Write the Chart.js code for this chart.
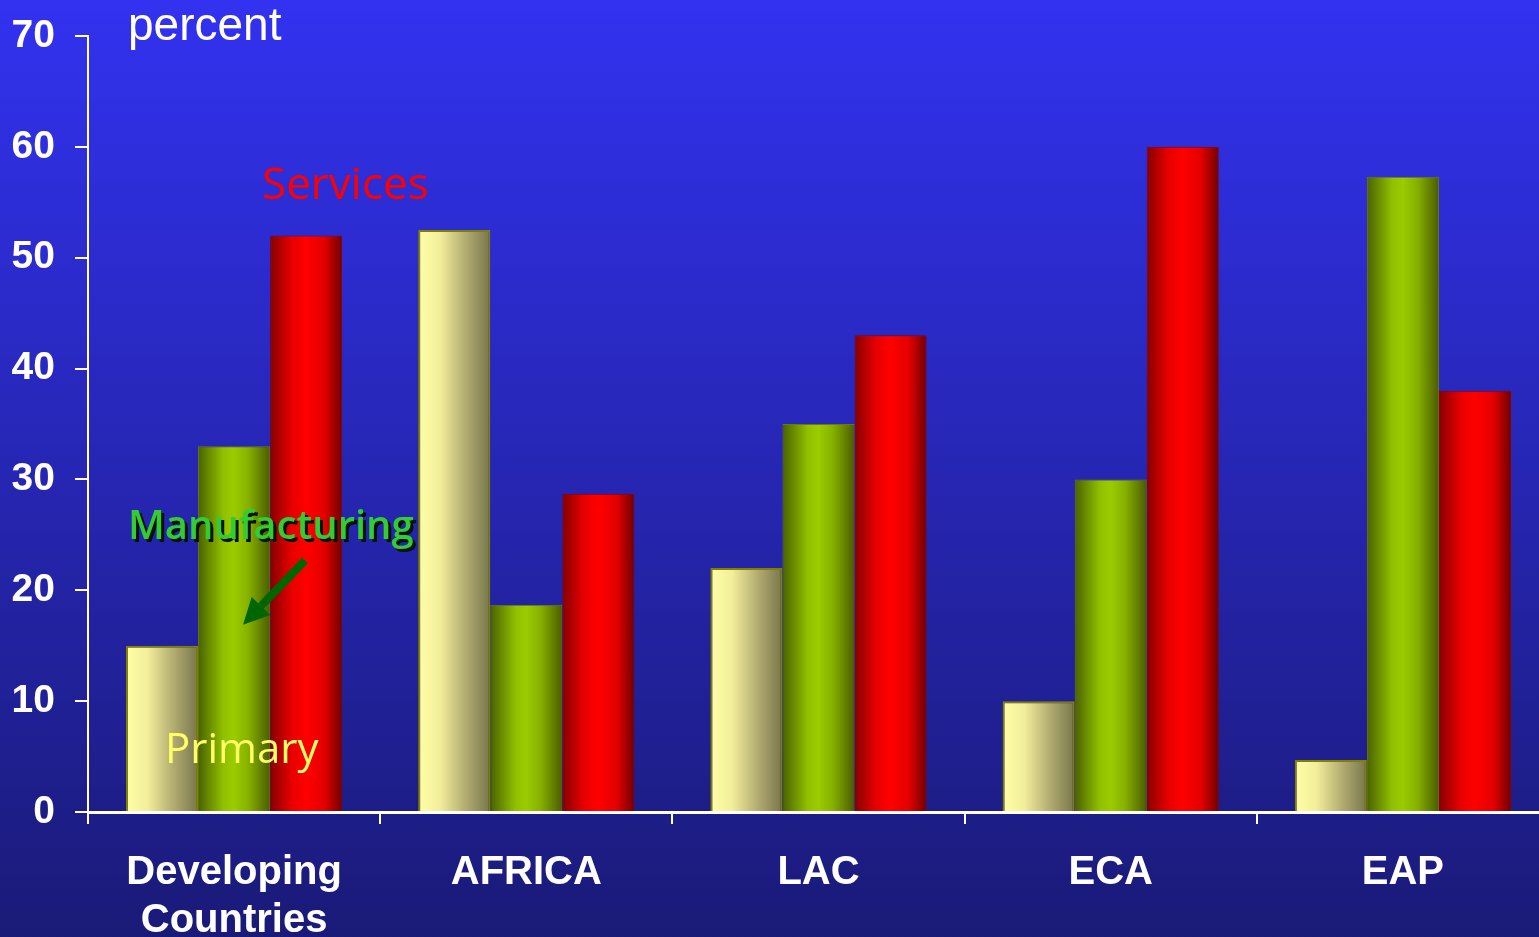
<!DOCTYPE html>
<html>
<head>
<meta charset="utf-8">
<title>Output shares by sector</title>
<script src="https://cdn.jsdelivr.net/npm/chart.js@4.4.0/dist/chart.umd.min.js"></script>
<style>
  html, body { margin: 0; padding: 0; overflow: hidden; background: #1a1a7a; }
  #wrap { position: absolute; left: 0; top: 0; width: 1549px; height: 937px; }
</style>
</head>
<body>
<div id="wrap"><canvas id="sector-chart" width="1549" height="937"></canvas></div>
<script>
  // values per region, in percent
  const regions = [['Developing', 'Countries'], 'AFRICA', 'LAC', 'ECA', 'EAP'];
  const primary = [15, 52.5, 22, 10, 4.7];
  const manufacturing = [33, 18.7, 35, 30, 57.3];
  const services = [52, 28.7, 43, 60, 38];
  const yMin = 0, yMax = 70, yStep = 10;

  const CATEGORY_PCT = 0.74;

  // horizontal shading across each bar, so they look rounded
  function barFill(stops) {
    return function (context) {
      const chart = context.chart;
      const x = chart.scales && chart.scales.x;
      if (!x || context.dataIndex === undefined || !x.width) return stops[1][1];
      const catW = x.width / regions.length;
      const groupW = catW * CATEGORY_PCT;
      const barW = groupW / 3;
      const left = x.getPixelForValue(context.dataIndex) - groupW / 2 + context.datasetIndex * barW;
      const g = chart.ctx.createLinearGradient(left, 0, left + barW, 0);
      stops.forEach(s => g.addColorStop(s[0], s[1]));
      return g;
    };
  }

  const primaryStops = [[0, '#ffffa6'], [0.3, '#f2ee9a'], [0.65, '#b4ad72'], [1, '#77764c']];
  const manufStops = [[0, '#4a6200'], [0.35, '#90c000'], [0.5, '#9acc00'], [0.7, '#86b000'], [1, '#4a5c00']];
  const servStops = [[0, '#860000'], [0.3, '#e80000'], [0.5, '#ff0000'], [0.75, '#e40000'], [1, '#700000']];

  // dark blue backdrop
  const backdrop = {
    id: 'backdrop',
    beforeDraw(chart) {
      const c = chart.ctx;
      const g = c.createLinearGradient(0, 0, 0, chart.height);
      g.addColorStop(0, '#3232f0');
      g.addColorStop(0.5, '#2626b4');
      g.addColorStop(1, '#1a1a78');
      c.save();
      c.fillStyle = g;
      c.fillRect(0, 0, chart.width, chart.height);
      c.restore();
    }
  };

  // captions and arrow, placed against the scales
  const notes = {
    id: 'notes',
    afterDatasetsDraw(chart) {
      const c = chart.ctx;
      const xs = chart.scales.x, ys = chart.scales.y;
      const L = xs.left;
      c.save();
      c.textBaseline = 'alphabetic';
      c.textAlign = 'left';

      c.font = '46px "Liberation Sans", Arial, sans-serif';
      c.fillStyle = '#ffffff';
      c.fillText('percent', L + 40, ys.getPixelForValue(69.6));

      c.font = '44px "Open Sans", sans-serif';
      c.fillStyle = '#ff0000';
      c.fillText('Services', L + 174, ys.getPixelForValue(55.3));

      c.font = '600 40px "Open Sans", sans-serif';
      c.fillStyle = '#001400';
      c.fillText('Manufacturing', L + 43, ys.getPixelForValue(24.6) + 3);
      c.fillStyle = '#33cc33';
      c.fillText('Manufacturing', L + 40, ys.getPixelForValue(24.6));

      c.font = '42px "Open Sans", sans-serif';
      c.fillStyle = '#ffff66';
      c.fillText('Primary', L + 77, ys.getPixelForValue(4.4));

      // arrow pointing at the manufacturing bar
      const x1 = L + 217, y1 = ys.getPixelForValue(22.7);
      const x2 = L + 155, y2 = ys.getPixelForValue(16.9);
      const ang = Math.atan2(y2 - y1, x2 - x1);
      const head = 26, half = 13;
      const bx = x2 - head * Math.cos(ang), by = y2 - head * Math.sin(ang);
      c.strokeStyle = '#006600';
      c.fillStyle = '#006600';
      c.lineWidth = 8;
      c.beginPath();
      c.moveTo(x1, y1);
      c.lineTo(bx, by);
      c.stroke();
      c.beginPath();
      c.moveTo(x2, y2);
      c.lineTo(bx + half * Math.sin(ang), by - half * Math.cos(ang));
      c.lineTo(bx - half * Math.sin(ang), by + half * Math.cos(ang));
      c.closePath();
      c.fill();
      c.restore();
    }
  };

  const ctx = document.getElementById('sector-chart').getContext('2d');
  const sectorChart = new Chart(ctx, {
    type: 'bar',
    data: {
      labels: regions,
      datasets: [
        { label: 'Primary', data: primary, backgroundColor: barFill(primaryStops), borderColor: '#808000', borderWidth: 2 },
        { label: 'Manufacturing', data: manufacturing, backgroundColor: barFill(manufStops), borderColor: '#6b7d00', borderWidth: 1 },
        { label: 'Services', data: services, backgroundColor: barFill(servStops), borderColor: '#8a0000', borderWidth: 1 }
      ]
    },
    options: {
      responsive: false,
      animation: false,
      layout: { padding: { top: 36, left: 0, right: 0, bottom: 0 } },
      datasets: { bar: { categoryPercentage: CATEGORY_PCT, barPercentage: 1.0 } },
      plugins: { legend: { display: false }, tooltip: { enabled: false } },
      scales: {
        x: {
          grid: { drawOnChartArea: false, drawTicks: true, tickLength: 12, color: '#ffffff', lineWidth: 2, offset: true },
          border: { display: true, color: '#ffffff', width: 3 },
          ticks: {
            color: '#ffffff',
            padding: 25,
            maxRotation: 0,
            font: { family: '"Liberation Sans", Arial, sans-serif', size: 40, weight: 'bold', lineHeight: 1.2 }
          },
          afterFit(scale) { scale.height = 125; }
        },
        y: {
          min: yMin,
          max: yMax,
          grid: { drawOnChartArea: false, drawTicks: true, tickLength: 13, color: '#ffffff', lineWidth: 2 },
          border: { display: true, color: '#ffffff', width: 2 },
          ticks: {
            stepSize: yStep,
            color: '#ffffff',
            padding: 20,
            font: { family: '"Liberation Sans", Arial, sans-serif', size: 39, weight: 'bold' }
          },
          afterFit(scale) {
            scale.width = 88;
            scale.paddingTop = 0;
            scale.paddingBottom = 0;
          }
        }
      }
    },
    plugins: [backdrop, notes]
  });
</script>
</body>
</html>
